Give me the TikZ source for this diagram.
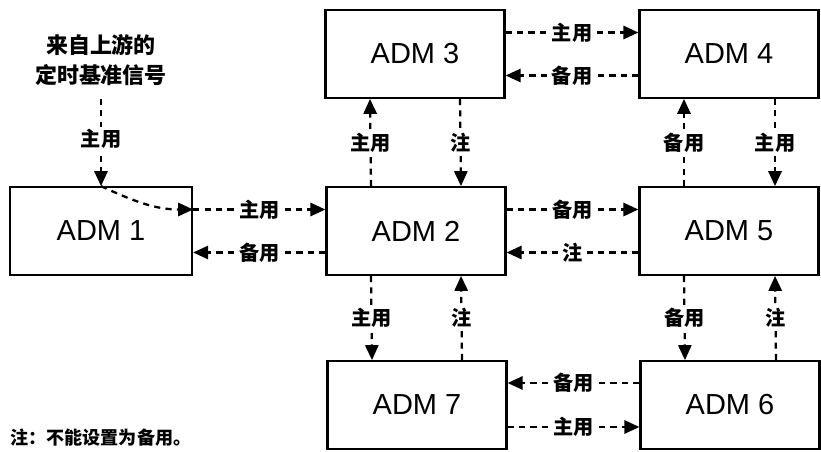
\documentclass[tikz,border=0pt]{standalone}
\usepackage{fontspec}
\setmainfont{Liberation Sans}
\newfontfamily\cjk{Noto Sans CJK SC}
\usetikzlibrary{arrows.meta}

\begin{document}
\begin{tikzpicture}[>={Triangle[length=8.5pt,width=7.5pt]},
  adm/.style={draw,line width=1.3pt,minimum width=3.58cm,minimum height=1.75cm,font=\fontsize{16.5}{18}\selectfont},
  link/.style={->,line width=1.3pt,dash pattern=on 3.5pt off 3pt},
  lab/.style={fill=white,inner sep=1.5pt,font=\cjk\bfseries\fontsize{11.5}{13}\selectfont}]
\useasboundingbox (0,0) rectangle (16.42,9.02);
\node[adm,minimum width=3.64cm] (adm1) at (2.02,4.40) {ADM 1};
\node[adm] (adm2) at (8.32,4.40) {ADM 2};
\node[adm] (adm3) at (8.30,7.94) {ADM 3};
\node[adm] (adm4) at (14.58,7.94) {ADM 4};
\node[adm] (adm5) at (14.58,4.40) {ADM 5};
\node[adm] (adm6) at (14.60,0.92) {ADM 6};
\node[adm] (adm7) at (8.34,0.92) {ADM 7};
\node[align=center,font=\cjk\bfseries\fontsize{12.5}{17}\selectfont] (src) at (2.02,7.82) {来自上游的\\定时基准信号};
\node[anchor=west,inner sep=0pt,font=\cjk\bfseries\fontsize{10.3}{12}\selectfont] (note) at (0.2,0.26) {注：不能设置为备用。};

\draw[link,shorten <=4pt] (src.south) -- node[lab]{主用} (adm1.north);
\draw[link] (adm1.north) to[out=-25,in=180] ([yshift=0.43cm]adm1.east);
\draw[link] ([yshift=0.43cm]adm1.east) -- node[lab]{主用} ([yshift=0.43cm]adm2.west);
\draw[link] ([yshift=-0.43cm]adm2.west) -- node[lab]{备用} ([yshift=-0.43cm]adm1.east);

\draw[link] ([xshift=-0.9cm]adm2.north) -- node[lab]{主用} ([xshift=-0.9cm]adm3.south);
\draw[link] ([xshift=0.9cm]adm3.south) -- node[lab]{注} ([xshift=0.9cm]adm2.north);
\draw[link] ([yshift=0.43cm]adm3.east) -- node[lab]{主用} ([yshift=0.43cm]adm4.west);
\draw[link] ([yshift=-0.43cm]adm4.west) -- node[lab]{备用} ([yshift=-0.43cm]adm3.east);

\draw[link] ([xshift=-0.9cm]adm5.north) -- node[lab]{备用} ([xshift=-0.9cm]adm4.south);
\draw[link] ([xshift=0.92cm]adm4.south) -- node[lab]{主用} ([xshift=0.92cm]adm5.north);
\draw[link] ([yshift=0.43cm]adm2.east) -- node[lab]{备用} ([yshift=0.43cm]adm5.west);
\draw[link] ([yshift=-0.43cm]adm5.west) -- node[lab]{注} ([yshift=-0.43cm]adm2.east);

\draw[link] ([xshift=-0.9cm]adm2.south) -- node[lab]{主用} ([xshift=-0.9cm]adm7.north);
\draw[link] ([xshift=0.9cm]adm7.north) -- node[lab]{注} ([xshift=0.9cm]adm2.south);
\draw[link] ([xshift=-0.9cm]adm5.south) -- node[lab]{备用} ([xshift=-0.9cm]adm6.north);
\draw[link] ([xshift=0.92cm]adm6.north) -- node[lab]{注} ([xshift=0.92cm]adm5.south);

\draw[link] ([yshift=0.44cm]adm6.west) -- node[lab]{备用} ([yshift=0.44cm]adm7.east);
\draw[link] ([yshift=-0.44cm]adm7.east) -- node[lab]{主用} ([yshift=-0.44cm]adm6.west);
\end{tikzpicture}
\end{document}
